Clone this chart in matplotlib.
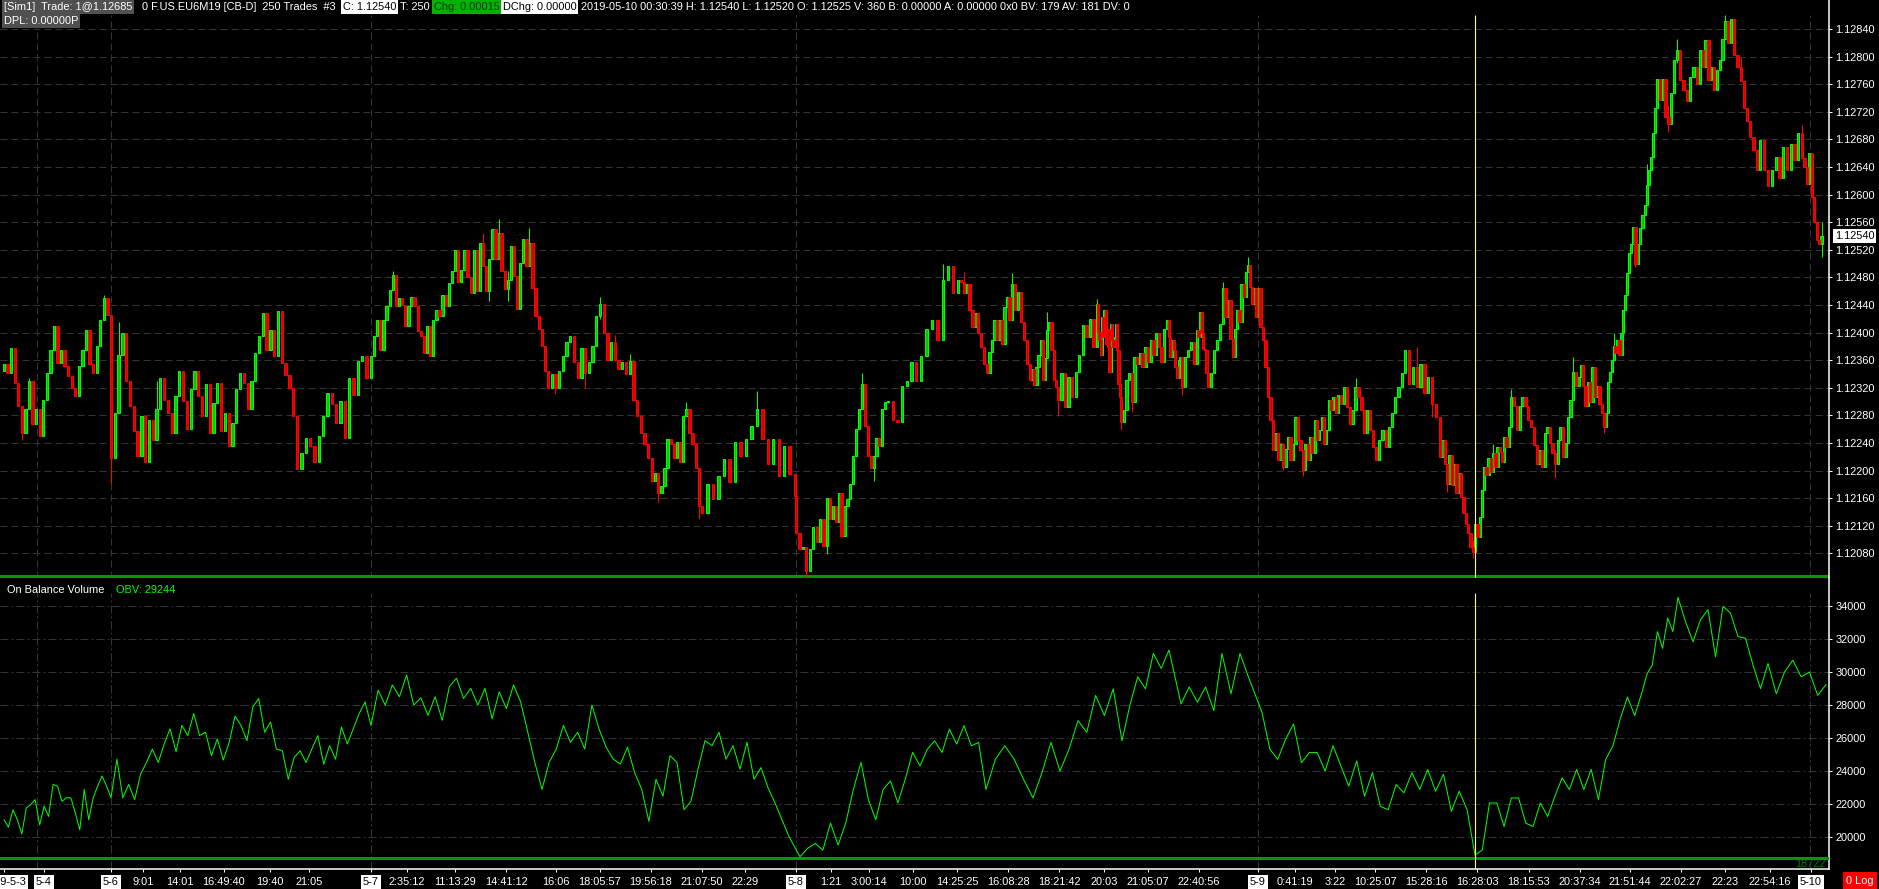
import numpy as np
import matplotlib
matplotlib.use("Agg")
import matplotlib.pyplot as plt

# closes per session, in 1e-5 above 1.12000 (bars open at the previous close)
first_open = 345
close_0503 = [354, 342, 378, 327, 293, 255, 289, 330, 267, 289, 250, 303, 342, 375, 409, 356, 375, 351, 337, 320,
              308, 351, 375, 404, 354, 342, 380, 419, 450, 426]
close_0506 = [219, 284, 368, 399, 330, 293, 257, 221, 279, 212, 274, 245, 289, 334, 303, 284, 255, 308, 344, 301,
              260, 318, 344, 308, 279, 325, 255, 298, 327, 257, 284, 236, 269, 318, 342, 327, 289, 330, 371, 395,
              428, 375, 404, 366, 431, 356, 339, 320, 279, 202, 226, 248, 236, 212, 250, 279, 313, 296, 269, 301,
              248, 334, 310, 359, 366, 334]
close_0507 = [366, 395, 419, 375, 419, 438, 462, 484, 438, 450, 440, 409, 438, 452, 438, 402, 395, 371, 409, 366,
              419, 433, 424, 455, 438, 472, 489, 520, 474, 491, 520, 481, 457, 520, 460,
              530, 496, 460, 506, 550, 506, 545, 489, 463, 477, 525, 482, 434, 501, 535, 496, 530, 465, 424, 405,
              381, 344, 320, 340, 320, 344, 366, 386, 395, 357, 335, 378, 342, 357, 381, 424, 441, 400, 361, 386,
              361, 347, 357, 340, 359, 303, 279, 255, 238, 219, 185, 197, 168, 178, 204, 246, 238, 219, 241, 212,
              279, 289, 255, 238, 204, 149, 139, 180, 159, 192, 217, 183, 241, 221, 246, 265, 289, 246, 209, 246,
              192, 236, 195, 164]
close_0508 = [110, 86, 89, 55, 86, 118, 96, 130, 91, 161, 130, 149, 125, 168, 106, 149, 159, 180, 221, 260,
              289, 325, 265, 221, 204, 221, 248, 236, 289, 299, 301, 274, 270, 323, 330, 357, 330, 366, 405, 419,
              390, 477, 496, 458, 477,
              474, 457, 471, 433, 408, 428, 399, 379, 355, 341, 372, 389, 418, 389, 418, 384, 437, 452, 418, 471,
              433, 459, 416, 389, 355, 331, 348, 324, 350, 367, 389, 331, 363, 404, 416, 375, 331, 321, 302, 341,
              292, 336, 307, 343, 367, 411, 394, 420, 379, 442, 401, 389, 367, 423, 394, 433, 384, 406, 379, 343,
              413, 389, 379, 394, 413, 375, 326, 307, 271, 288, 331, 341, 300, 365, 355, 370, 350, 379, 358, 389,
              367, 399, 379, 358, 406, 418, 394, 365, 389, 375, 350, 334, 360, 365, 321, 365, 375, 387, 355, 404,
              394, 430, 399, 377, 375, 341, 321, 341, 375, 389, 413, 464, 423, 447, 391, 365, 405, 433, 416, 471,
              452, 488, 498, 466, 442, 464, 423]
close_0509 = [464, 408, 389, 350, 307, 273, 230, 254, 215, 239, 206, 232, 249, 215, 239, 278, 244, 230, 201, 239,
              215, 249, 225, 273, 244, 259, 278, 239, 259, 302, 288, 307, 283, 309, 297, 321, 292, 268, 288, 321,
              307, 288, 254, 288, 259, 235, 215, 244, 259, 235, 263, 283, 307, 321, 341, 375, 326, 350, 321, 355,
              312, 336, 297, 278, 220,
              244, 210, 181, 222, 179, 210, 167, 196, 162, 138, 123, 109, 90, 82, 123, 104, 133, 172, 206, 194,
              218, 198, 225, 206, 235, 227, 213, 249, 235, 264, 307, 293, 259, 293, 307, 293, 273, 264, 237, 210,
              230, 206, 254, 264, 240, 225, 210, 244, 264, 220, 240, 278, 302, 343, 322, 336, 353, 322, 293, 329,
              300, 350, 307, 322, 297, 283, 264, 283, 329, 343, 360, 380, 370, 389, 367, 399, 433, 454, 486, 515,
              529, 553, 500, 529, 551, 570, 585,
              614, 636, 655, 689, 725, 768, 737, 768, 713, 703, 747, 795, 810, 766, 752, 735, 771, 785, 761, 810,
              785, 824, 766, 785, 752, 781, 795, 826, 851, 819, 855, 802, 785, 764, 725, 706, 684, 665, 636, 679,
              636, 612, 636, 655, 624, 669, 636, 674, 650, 689, 653, 640, 616, 660, 597, 561, 534, 529, 540]
price_sessions = [close_0503, close_0506, close_0507, close_0508, close_0509]

# where the bars of a session fall on the time axis (non-uniform, bars close on trade count)
price_anchor_bar = [[0, 30],
                    [0, 49, 66],
                    [0, 35, 57, 71, 85, 101, 111, 118, 119],
                    [0, 9, 21, 30, 37, 41, 44, 54, 64, 70, 83, 94, 113, 130, 139, 144, 151, 156, 160, 167, 172],
                    [0, 18, 33, 46, 55, 64, 78, 95, 104, 121, 131, 146, 151, 157, 164, 171, 182, 191, 194, 202, 211]]
price_anchor_x = [[4, 111],
                  [111, 297, 371],
                  [371, 480, 548, 600, 652, 702, 757, 795, 796],
                  [796, 827, 862, 888, 921, 943, 958, 987, 1012, 1030, 1058, 1097, 1121, 1167, 1182, 1197, 1208,
                   1223, 1233, 1248, 1258],
                  [1258, 1303, 1338, 1376, 1405, 1440, 1473, 1511, 1537, 1581, 1604, 1633, 1645, 1657, 1677, 1700,
                   1731, 1760, 1772, 1802, 1824]]

# thin wicks: chart position, low, high
wick_x = [111, 120, 98, 392, 18, 500, 486, 530, 490, 508, 628, 584, 682, 860, 945, 873, 826, 1248, 963, 1048,
          1097, 1122, 1132, 1182, 1282, 1405, 1417, 1573, 1554, 1511, 1416, 1677, 1723, 1668, 1823,
          555, 600, 619, 699, 758, 808, 652, 1013, 1058, 1223, 1302, 1353, 1424, 1487, 1473, 1448, 1603, 1613,
          1634, 1647, 1743, 1803, 30, 148]
wick_lo = [180, 340, 440, 470, 245, 520, 500, 510, 446, 446, 345, 320, 280, 320, 470, 185, 79, 490, 470, 400,
           430, 259, 285, 309, 201, 350, 350, 340, 190, 290, 350, 790, 830, 691, 510,
           311, 420, 370, 130, 290, 45, 154, 460, 279, 450, 193, 310, 278, 220, 73, 169, 254, 380, 495, 600,
           770, 670, 300, 280]
wick_hi = [240, 416, 455, 489, 290, 565, 545, 551, 490, 490, 369, 350, 300, 341, 500, 220, 120, 510, 488, 430,
           449, 290, 320, 340, 240, 375, 378, 365, 230, 319, 379, 825, 860, 730, 561,
           340, 451, 396, 160, 315, 70, 180, 486, 310, 474, 225, 334, 310, 239, 100, 200, 280, 399, 520, 645,
           800, 701, 335, 330]

# on balance volume, per session
obv_0503 = [21060, 20610, 21670, 21060, 20200, 21770, 21980, 22280, 20750, 21880, 21260, 23200, 23100, 22180, 22390,
            22390, 21470, 20450, 22900, 21060, 22390, 23100, 23710, 23100]
obv_0506 = [22390, 24730, 22390, 23200, 22280, 23810, 24530, 25340, 24530, 25650, 26570, 25180, 26770, 26160, 27490,
            26160, 26360, 24940, 25960, 24670, 25750, 27340, 26770, 25850, 27890, 28400, 26360, 26980, 25340, 25240,
            23510, 24830, 25240, 24530, 25340, 26160, 24430, 25550, 24730, 26670, 25650, 26570, 27490, 28200]
obv_0507 = [26770, 28910, 28000, 29220, 28510, 29830, 28000, 28450, 27380, 28510, 27080, 29120, 29630, 28400, 29020,
            28000, 29020, 27180, 28810, 27790, 29220, 28200, 26360, 24530, 22900, 24530, 25340, 26770, 25750, 26360,
            25340, 28000, 26570, 25450, 24730, 24430, 25450, 23920, 22900, 20960, 23510, 22490, 24940, 24530, 21670,
            22180, 24120, 25850, 25550, 26360, 24730, 25550, 24120, 25750, 23510, 24220, 23000, 22080, 21060, 20040]
obv_0508 = [18820, 19330, 19630, 19220, 20860, 19530, 20860, 22900, 24530, 22280, 21060, 22900, 23410, 22080, 23510,
            25140, 24320, 25330, 25840, 25130, 26550, 25640, 26760, 25540, 25740, 22890, 24720, 25540, 24720, 23500,
            22380, 23910, 25740, 24010, 25330, 27060, 26350, 28590, 27370, 28990, 25840, 27980, 29710, 28990, 31130,
            30220, 31340, 28080, 29100, 28180, 29100, 27670, 31130, 28690, 31130, 29610]
obv_0509 = [27570, 25330, 24720, 25940, 26860, 24520, 25130, 25130, 24010, 25540, 24310, 23090, 24620, 22480, 23910,
            21870, 21670, 23190, 22690, 23910, 22890, 24110, 22790, 23810, 21570, 22790, 21670, 18920, 19230, 22080,
            22080, 20650, 22380, 22380, 20850, 20650, 22080, 21260, 22480, 23600, 22890, 24110, 22890, 24110, 22280,
            24720, 25540, 27160, 28490, 27370, 28790, 29910, 30420, 32450, 31440, 33270, 32450, 34530, 33060, 31840,
            33170, 33780, 30930, 33980, 33570, 32150, 32050, 30420, 29000, 30520, 28690, 30010, 30720, 29710, 30010,
            28590, 29244]
obv_sessions = [obv_0503, obv_0506, obv_0507, obv_0508, obv_0509]
obv_anchor_bar = [[0, 24],
                  [0, 44],
                  [0, 40, 60],
                  [0, 8, 16, 25, 30, 35, 40, 46, 47, 52, 56],
                  [0, 27, 50, 57, 69, 76]]
obv_anchor_x = [[4, 111],
                [111, 371],
                [371, 656, 796],
                [800, 861, 920, 986, 1033, 1078, 1122, 1169, 1181, 1222, 1258],
                [1262, 1475, 1642, 1678, 1768, 1826]]

price_ticks = [1.12080, 1.12120, 1.12160, 1.12200, 1.12240, 1.12280, 1.12320, 1.12360, 1.12400, 1.12440, 1.12480,
               1.12520, 1.12560, 1.12600, 1.12640, 1.12680, 1.12720, 1.12760, 1.12800, 1.12840]
obv_ticks = [20000, 22000, 24000, 26000, 28000, 30000, 32000, 34000]
time_ticks = [4, 44, 111, 143, 180, 224, 270, 309, 371, 407, 455, 506, 556, 600, 651, 702, 745, 796, 831, 869, 913,
              957, 1008, 1059, 1104, 1148, 1199, 1258, 1295, 1335, 1375, 1426, 1477, 1529, 1580, 1630, 1681, 1725,
              1770, 1811]
time_labels = ["2019-5-3", "5-4", "5-6", "9:01", "14:01", "16:49:40", "19:40", "21:05", "5-7", "2:35:12", "11:13:29",
               "14:41:12", "16:06", "18:05:57", "19:56:18", "21:07:50", "22:29", "5-8", "1:21", "3:00:14", "10:00",
               "14:25:25", "16:08:28", "18:21:42", "20:03", "21:05:07", "22:40:56", "5-9", "0:41:19", "3:22",
               "10:25:07", "15:28:16", "16:28:03", "18:15:53", "20:37:34", "21:51:44", "22:02:27", "22:23",
               "22:54:16", "5-10"]
day_lines = [37, 111, 371, 796, 1258, 1810]
cursor_x = 1475

FONT = "Liberation Sans"
GRID = "#343434"
plt.rcParams["font.family"] = FONT


def session_positions(sessions, anchor_bar, anchor_x):
    xs = []
    for i, values in enumerate(sessions):
        xs.append(np.interp(np.arange(len(values)), anchor_bar[i], anchor_x[i]))
    return np.concatenate(xs)


def header(fig, x, y, text, color="white", bg=None):
    box = None
    if bg:
        box = dict(facecolor=bg, edgecolor="none", pad=1.2)
    fig.text(x / 1879, 1 - y / 889, text, color=color, fontsize=7.9, va="center", ha="left", bbox=box)


fig = plt.figure(figsize=(18.79, 8.89), dpi=100, facecolor="black")
ax = fig.add_axes([0, 311 / 889, 1829 / 1879, 578 / 889], facecolor="black")
ax2 = fig.add_axes([0, 20 / 889, 1829 / 1879, 291 / 889], facecolor="black")

# price panel
close_pts = np.concatenate(price_sessions).astype(float)
open_pts = np.concatenate([[first_open], close_pts[:-1]])
closes = 1.12 + close_pts / 1e5
opens = 1.12 + open_pts / 1e5
bar_x = session_positions(price_sessions, price_anchor_bar, price_anchor_x)
up = closes >= opens

# each wick goes on the nearby bar whose body is closest to it in price
body_lo = np.minimum(open_pts, close_pts)
body_hi = np.maximum(open_pts, close_pts)
for wx, lo, hi in zip(wick_x, wick_lo, wick_hi):
    near = np.where(np.abs(bar_x - wx) < 14)[0]
    if len(near) == 0:
        continue
    gap = np.maximum(lo - body_hi[near], 0) + np.maximum(body_lo[near] - hi, 0)
    b = near[np.argmin(gap + np.abs(bar_x[near] - wx) * 0.01)]
    ax.vlines(bar_x[b], 1.12 + min(lo, body_lo[b]) / 1e5, 1.12 + max(hi, body_hi[b]) / 1e5,
              color="#00ff00" if up[b] else "#ff0000", lw=0.72, zorder=3)

ax.bar(bar_x[up], (closes - opens)[up], bottom=opens[up], width=2.3,
       facecolor="#00c800", edgecolor="#00ff00", lw=0.72, zorder=4)
ax.bar(bar_x[~up], (closes - opens)[~up], bottom=opens[~up], width=2.3,
       facecolor="#d80000", edgecolor="#ff0000", lw=0.72, zorder=4)
ax.axhline(1.12048, color="#009900", lw=2.2, zorder=2)
ax.set_xlim(0, 1829)
ax.set_ylim(1.120445, 1.12882)
ax.set_yticks(price_ticks)
ax.set_yticklabels([f"{v:.5f}" for v in price_ticks])
ax.yaxis.tick_right()
ax.set_xticks([])
ax.tick_params(axis="y", colors="white", length=2.5, width=0.72, pad=2, labelsize=7.9)
ax.grid(axis="y", color=GRID, lw=0.72, linestyle=(0, (7, 4)), zorder=0)
ax.vlines(day_lines, 1.120445, 1.1286, color=GRID, lw=0.72, linestyle=(0, (7, 4)), zorder=1)
ax.vlines(cursor_x, 1.120445, 1.1286, color="#ffff66", lw=0.8, zorder=6)
for name, spine in ax.spines.items():
    spine.set_visible(name == "right")
ax.spines["right"].set_color("white")
ax.spines["right"].set_linewidth(1.1)
ax.text(1.0032, 1.12540, "1.12540", transform=ax.get_yaxis_transform(), color="black", fontsize=7.9,
        va="center", ha="left", clip_on=False, zorder=8,
        bbox=dict(facecolor="white", edgecolor="none", pad=1.2))

# volume panel
ax2.plot(session_positions(obv_sessions, obv_anchor_bar, obv_anchor_x), np.concatenate(obv_sessions),
         color="#00ff00", lw=0.72, zorder=4)
ax2.axhline(18722, color="#009900", lw=2.2, zorder=5)
ax2.set_xlim(0, 1829)
ax2.set_ylim(18079, 35697)
ax2.set_yticks(obv_ticks)
ax2.set_yticklabels([str(v) for v in obv_ticks])
ax2.yaxis.tick_right()
ax2.set_xticks(time_ticks)
ax2.set_xticklabels(time_labels)
ax2.tick_params(axis="both", colors="white", length=2.5, width=0.72, pad=2, labelsize=7.9)
ax2.tick_params(axis="x", pad=3.5)
for label in ax2.get_xticklabels():
    if "-" in label.get_text():
        label.set_color("black")
        label.set_bbox(dict(facecolor="white", edgecolor="none", pad=1.5))
ax2.grid(axis="y", color=GRID, lw=0.72, linestyle=(0, (8, 3, 2, 3)), zorder=0)
ax2.vlines(day_lines, 18079, 34800, color=GRID, lw=0.72, linestyle=(0, (8, 3, 2, 3)), zorder=1)
ax2.vlines(cursor_x, 18079, 34800, color="#ffff66", lw=0.8, zorder=6)
ax2.spines["top"].set_visible(False)
ax2.spines["left"].set_visible(False)
for side in ["right", "bottom"]:
    ax2.spines[side].set_color("white")
    ax2.spines[side].set_linewidth(1.1)
ax2.text(7, 34950, "On Balance Volume", color="white", fontsize=7.9, va="center")
ax2.text(116, 34950, "OBV: 29244", color="#00ff00", fontsize=7.9, va="center")
ax2.text(1826, 18400, "18722", color="#007a00", fontsize=7.9, va="center", ha="right")

# header strip
header(fig, 4, 7, "[Sim1]  Trade: 1@1.12685", bg="#505050")
header(fig, 142, 7, "0 F.US.EU6M19 [CB-D]  250 Trades  #3")
header(fig, 343, 7, "C: 1.12540", color="black", bg="white")
header(fig, 400, 7, "T: 250")
header(fig, 434, 7, "Chg: 0.00015", color="#103010", bg="#00b400")
header(fig, 503, 7, "DChg: 0.00000", color="black", bg="white")
header(fig, 581, 7, "2019-05-10 00:30:39 H: 1.12540 L: 1.12520 O: 1.12525 V: 360 B: 0.00000 A: 0.00000 0x0 "
                    "BV: 179 AV: 181 DV: 0")
header(fig, 4, 21, "DPL: 0.00000P", bg="#505050")
fig.text(1860 / 1879, 1 - 881 / 889, "0 Log", color="white", fontsize=7.9, va="center", ha="center",
         bbox=dict(facecolor="#ff0000", edgecolor="none", pad=2.5))

fig.savefig("out.png", dpi=100, facecolor="black")
